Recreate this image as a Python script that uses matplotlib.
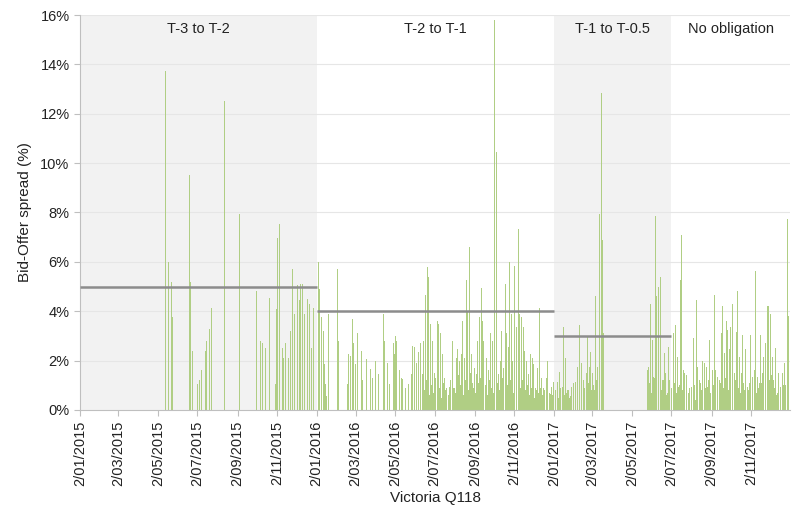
import numpy as np
import matplotlib
matplotlib.use("Agg")
import matplotlib.pyplot as plt
import matplotlib.dates as mdates
from matplotlib.ticker import FixedLocator, FuncFormatter
import datetime as dt

plt.rcParams['font.family'] = ['Liberation Sans', 'DejaVu Sans']

# ---- data: day offsets since 2 Jan 2015 and bid-offer spread (%) ----
days_2015 = [131, 136, 140, 142, 168, 170, 172, 180, 184, 187, 193, 195, 199, 202,
             222, 245, 272, 278, 280, 285, 291, 301, 302, 304, 307, 311, 313, 316,
             321, 324, 327, 330, 334, 337, 339, 343, 345, 350, 353, 356, 360]
spread_2015 = [13.75, 6.0, 5.2, 3.75, 9.5, 5.2, 2.4, 1.05, 1.2, 1.6, 2.4, 2.8, 3.3, 4.15,
               12.5, 7.95, 4.8, 2.8, 2.7, 2.5, 4.55, 1.05, 4.1, 6.95, 7.55, 2.5, 2.1, 2.7,
               2.1, 3.2, 5.7, 3.9, 5.05, 4.45, 5.1, 5.1, 3.9, 4.5, 4.3, 2.5, 4.15]

days_2016 = [367, 369, 372, 374, 376, 378, 379, 383, 397, 398, 412, 414, 417, 419, 421,
             424, 427, 433, 435, 441, 447, 451, 455, 460, 468, 469, 473, 476, 482, 484,
             486, 488, 492, 495, 497, 502, 506, 510, 512, 515, 518, 521, 524, 527, 529,
             532, 535, 537, 540, 543, 546, 550, 552, 555, 558, 562, 565, 569, 573, 577,
             580, 582, 585, 587, 589, 592, 595, 597, 600, 603, 605, 608, 611, 613, 616,
             618, 620, 622, 626, 630, 632, 635, 639, 641, 645, 648, 650, 653, 655, 657,
             660, 662, 665, 667, 670, 673, 675, 677, 680, 683, 685, 688, 691, 694, 697,
             699, 702, 705, 708, 711, 714, 718, 721, 725]
spread_2016 = [6.0, 4.9, 3.75, 3.2, 1.85, 1.05, 0.55, 3.9, 5.7, 2.8, 1.05, 2.25, 2.2, 3.7, 2.7,
               1.85, 3.1, 2.4, 1.2, 2.05, 1.65, 1.3, 2.0, 1.45, 3.9, 2.8, 1.9, 1.05, 2.7, 2.25,
               3.0, 2.8, 1.6, 1.3, 1.25, 0.9, 1.05, 1.45, 2.6, 2.55, 1.9, 2.35, 2.7, 1.45, 2.8,
               4.65, 5.8, 5.4, 3.5, 2.8, 1.5, 3.6, 3.5, 3.1, 2.25, 1.3, 0.9, 0.95, 2.8, 0.9,
               2.1, 2.45, 2.0, 2.25, 3.6, 2.1, 5.25, 4.0, 6.6, 2.25, 1.1, 1.7, 1.45, 2.8, 3.75,
               4.95, 3.6, 2.8, 2.1, 1.6, 3.1, 2.8, 15.8, 10.45, 1.45, 2.0, 3.2, 1.7, 5.1, 3.1,
               2.55, 6.0, 3.9, 2.0, 5.85, 3.35, 7.35, 3.9, 3.75, 3.35, 2.4, 2.0, 1.45, 2.25, 2.1,
               1.85, 0.9, 1.7, 4.15, 1.3, 0.9, 1.3, 2.0, 0.65]

# low-spread days filling the dense bottom of the H2-2016 period
days_2016_low = [531, 534, 538, 541, 544, 548, 553, 556, 560, 563, 567, 571, 575, 578,
                 583, 586, 590, 594, 598, 601, 606, 609, 614, 617, 621, 624, 628, 631,
                 634, 637, 643, 646, 651, 656, 659, 663, 668, 672, 678, 681, 686, 689,
                 692, 696, 700, 703, 707, 710, 713, 716, 719, 723]
spread_2016_low = [0.8, 1.2, 0.6, 1.0, 0.7, 1.3, 0.9, 0.5, 1.1, 0.8, 0.6, 1.2, 0.9, 0.7,
                   1.4, 1.0, 0.6, 1.2, 0.8, 1.5, 0.9, 0.7, 1.1, 1.3, 0.8, 1.0, 0.6, 1.2,
                   0.9, 0.7, 1.1, 0.8, 1.3, 0.9, 1.0, 1.2, 0.7, 1.1, 0.9, 1.2, 0.8, 1.0,
                   0.6, 0.9, 0.5, 0.8, 0.7, 0.9, 0.6, 0.8, 0.5, 0.7]

days_2017 = [727, 730, 732, 735, 738, 740, 743, 745, 748, 750, 753, 756, 758, 761, 763,
             767, 769, 772, 775, 777, 780, 782, 785, 787, 790, 793, 795, 798, 801, 803,
             805, 807,
             874, 876, 879, 882, 884, 887, 889, 892, 894, 897, 900, 902, 905, 907, 909,
             912, 914, 917, 920, 922, 925, 927, 930, 932, 935, 937, 940, 943, 945, 948,
             950, 952, 954, 957, 960, 962, 965, 967, 970, 972, 975, 978, 980, 983, 985,
             988, 990, 993, 996, 998, 1001, 1003, 1006, 1008, 1011, 1013, 1016, 1019, 1021,
             1024, 1026, 1029, 1032, 1034, 1037, 1039, 1041, 1044, 1047, 1049, 1052, 1054,
             1057, 1059, 1061, 1064, 1067, 1069, 1072, 1075, 1077, 1080, 1082, 1085, 1088,
             1090, 1092]
spread_2017 = [0.95, 1.15, 0.7, 1.15, 1.55, 0.55, 0.95, 3.35, 2.1, 0.7, 0.8, 0.55, 0.95, 1.1, 1.15,
               1.75, 3.45, 1.9, 1.2, 0.75, 1.5, 2.95, 1.75, 2.35, 1.5, 0.8, 4.6, 1.75, 7.95, 12.85,
               6.9, 3.1,
               1.6, 1.75, 4.3, 2.85, 1.35, 7.85, 4.6, 5.0, 5.4, 1.2, 2.3, 1.5, 0.7, 2.55, 1.2,
               0.55, 3.1, 3.45, 2.15, 0.95, 5.25, 7.1, 1.6, 1.5, 1.4, 0.7, 0.4, 0.95, 2.9, 0.4,
               4.45, 1.75, 1.2, 0.8, 2.0, 1.9, 1.75, 0.95, 2.85, 0.7, 1.6, 4.65, 1.6, 1.35, 1.2,
               3.1, 4.2, 2.3, 3.6, 3.25, 2.45, 3.35, 4.3, 1.5, 3.15, 4.8, 2.15, 1.5, 3.05,
               0.8, 2.45, 0.95, 1.1, 3.05, 1.35, 1.6, 5.65, 1.35, 1.1, 3.05, 1.5, 2.15,
               2.7, 4.2, 4.2, 3.9, 2.15, 1.2, 2.5, 0.7, 1.5, 0.95, 1.5, 1.9, 1.0,
               7.75, 3.8]

# low-spread days filling the dense bottom of 2017
days_2017_low = [728, 733, 737, 741, 744, 747, 751, 754, 757, 760, 764, 766, 770, 773,
                 778, 781, 784, 788, 791, 796, 800,
                 875, 878, 881, 886, 891, 896, 899, 904, 911, 916, 919, 924, 929, 934,
                 939, 942, 947, 951, 956, 959, 964, 969, 974, 977, 982, 987, 992, 995,
                 1000, 1005, 1010, 1015, 1018, 1023, 1028, 1031, 1036, 1043, 1046, 1051,
                 1056, 1063, 1066, 1071, 1074, 1079, 1084, 1087, 1091]
spread_2017_low = [0.6, 0.8, 0.5, 0.9, 0.7, 0.6, 0.8, 0.5, 0.7, 0.9, 0.6, 0.8, 1.0, 0.7,
                   0.9, 0.6, 1.1, 0.8, 1.0, 1.2, 1.5,
                   0.9, 1.1, 0.7, 1.3, 1.0, 0.8, 1.2, 0.6, 0.9, 1.1, 0.7, 1.0, 0.8, 0.6,
                   0.9, 0.5, 1.0, 0.7, 1.1, 0.6, 0.9, 1.2, 0.8, 1.0, 0.7, 1.1, 0.9, 1.3,
                   0.8, 1.0, 1.2, 0.9, 0.7, 1.1, 0.6, 0.8, 1.0, 0.7, 0.9, 1.1,
                   0.8, 1.2, 1.4, 0.9, 0.6, 0.8, 1.0, 0.7, 1.2]

# obligation periods and obligation spreads
period_names = ["T-3 to T-2", "T-2 to T-1", "T-1 to T-0.5", "No obligation"]
period_starts = ["2015-01-02", "2016-01-02", "2017-01-02", "2017-07-02"]
period_ends = ["2016-01-02", "2017-01-02", "2017-07-02", "2018-01-01"]
period_shaded = [True, False, True, False]
obligation = [5.0, 4.0, 3.0, None]

tick_dates = ["2015-01-02", "2015-03-02", "2015-05-02", "2015-07-02", "2015-09-02",
              "2015-11-02", "2016-01-02", "2016-03-02", "2016-05-02", "2016-07-02",
              "2016-09-02", "2016-11-02", "2017-01-02", "2017-03-02", "2017-05-02",
              "2017-07-02", "2017-09-02", "2017-11-02"]

# ---- figure ----
fig = plt.figure(figsize=(7.93, 5.11), dpi=100)
ax = fig.add_axes([0.1009, 0.1977, 0.8953, 0.7729])

start = dt.date(2015, 1, 2)
days = days_2015 + days_2016 + days_2016_low + days_2017 + days_2017_low
vals = spread_2015 + spread_2016 + spread_2016_low + spread_2017 + spread_2017_low
dates = [mdates.date2num(start + dt.timedelta(days=d)) for d in days]

def dn(s):
    return mdates.date2num(dt.date.fromisoformat(s))

for name, s, e, sh in zip(period_names, period_starts, period_ends, period_shaded):
    if sh:
        ax.axvspan(dn(s), dn(e), color='#f2f2f2', zorder=0, lw=0)
    ax.text((dn(s) + dn(e)) / 2, 15.45, name, ha='center', va='center',
            fontsize=10.5, color='#222222', zorder=5)

for y in range(2, 17, 2):
    ax.axhline(y, color='#e6e6e6', lw=0.8, zorder=1)

ax.vlines(dates, 0, vals, colors='#b0ce84', linewidth=0.72, zorder=2, antialiased=False)

for s, e, ob in zip(period_starts, period_ends, obligation):
    if ob is not None:
        ax.hlines(ob, dn(s), dn(e), color='#8c8c8c', lw=1.8, zorder=4)

ax.set_xlim(dn("2015-01-02"), dn("2018-01-01"))
ax.set_ylim(0, 16)
ax.yaxis.set_major_locator(FixedLocator(range(0, 17, 2)))
ax.yaxis.set_major_formatter(FuncFormatter(lambda v, p: f"{int(v)}%"))
tick_nums = [dn(t) for t in tick_dates]
ax.xaxis.set_major_locator(FixedLocator(tick_nums))
labels = []
for t in tick_dates:
    d = dt.date.fromisoformat(t)
    labels.append(f"{d.day}/{d.month:02d}/{d.year}")
ax.set_xticklabels(labels, rotation=90)

for sp in ['top', 'right']:
    ax.spines[sp].set_visible(False)
for sp in ['left', 'bottom']:
    ax.spines[sp].set_color('#bfbfbf')
    ax.spines[sp].set_linewidth(0.8)
ax.tick_params(axis='both', colors='#bfbfbf', labelcolor='#222222', labelsize=10.5,
               length=4, width=0.8)
ax.set_ylabel("Bid-Offer spread (%)", fontsize=11, color='#222222', labelpad=6)
ax.set_xlabel("Victoria Q118", fontsize=11, color='#222222', labelpad=4)

fig.savefig("out.png", dpi=100, facecolor='white')
